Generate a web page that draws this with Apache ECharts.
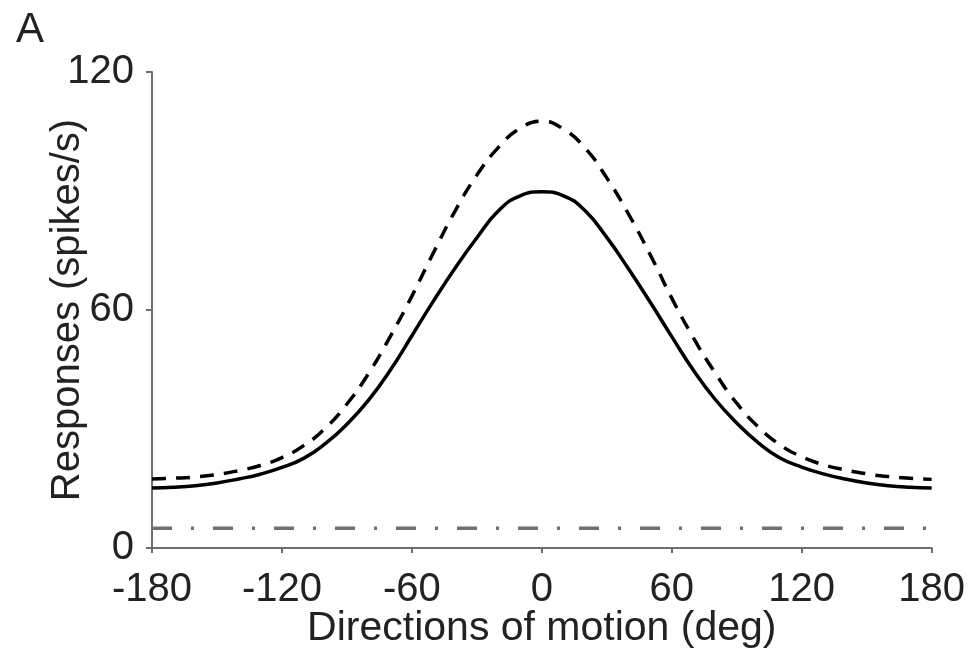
<!DOCTYPE html>
<html>
<head>
<meta charset="utf-8">
<script src="https://cdn.jsdelivr.net/npm/echarts@6/dist/echarts.min.js"></script>
<style>
  html, body { margin: 0; padding: 0; background: #fff; }
  #app { width: 968px; height: 662px; }
</style>
</head>
<body>
<div id="app"></div>
<script>
// directions of motion (deg), every 10 deg
var directions = [-180, -170, -160, -150, -140, -130, -120, -110, -100, -90,
                  -80, -70, -60, -50, -40, -30, -20, -10, 0,
                  10, 20, 30, 40, 50, 60, 70, 80, 90,
                  100, 110, 120, 130, 140, 150, 160, 170, 180];
// solid curve (spikes/s)
var solidResp = [15.1, 15.3, 15.7, 16.4, 17.4, 18.6, 20.3, 22.6, 26.3, 31.2,
                 37.3, 44.8, 53.5, 62.3, 70.6, 78.2, 85, 88.8, 89.8,
                 88.8, 85, 78.3, 70.4, 62, 53.3, 44.8, 37.5, 31.5,
                 26.5, 22.7, 20.4, 18.7, 17.4, 16.4, 15.7, 15.3, 15.1];
// dashed curve (spikes/s)
var dashedResp = [17.4, 17.6, 17.9, 18.5, 19.5, 20.8, 22.8, 25.8, 30.2, 36.3,
                  44, 53.3, 63.5, 74.5, 85, 94, 101, 105.8, 107.6,
                  105.6, 100.8, 93.3, 84.2, 74, 63, 53, 44.2, 36.5,
                  30.5, 26, 23, 21, 19.7, 18.7, 18, 17.6, 17.3];
// dash-dot baseline
var baseX = [-180, 180];
var baseResp = [5, 5];

var xTicks = [-180, -120, -60, 0, 60, 120, 180];
var yTicks = [0, 60, 120];

function pairs(xs, ys) {
  var out = [];
  for (var i = 0; i < xs.length; i++) out.push([xs[i], ys[i]]);
  return out;
}

var axisColor = '#6e6e6e';
var textColor = '#222';
var fontFam = 'Liberation Sans, Arial, sans-serif';

var myChart = echarts.init(document.getElementById('app'));
myChart.setOption({
  backgroundColor: '#fff',
  animation: false,
  title: {
    text: 'A',
    left: 11,
    top: 4,
    textStyle: { fontSize: 42, fontWeight: 'normal', color: textColor, fontFamily: fontFam }
  },
  grid: { left: 152, right: 36, top: 72, bottom: 114 },
  xAxis: {
    type: 'value',
    min: -180,
    max: 180,
    interval: 60,
    name: 'Directions of motion (deg)',
    nameLocation: 'middle',
    nameGap: 60,
    nameMoveOverlap: false,
    nameTextStyle: { fontSize: 41, color: textColor, fontFamily: fontFam },
    axisLine: { onZero: false, lineStyle: { color: axisColor, width: 2 } },
    axisTick: { show: true, length: 5, inside: false, lineStyle: { color: axisColor, width: 2 } },
    axisLabel: {
      margin: 22, fontSize: 40, color: textColor, fontFamily: fontFam,
      formatter: function (v) { return xTicks.indexOf(v) >= 0 ? String(v) : ''; }
    },
    splitLine: { show: false }
  },
  yAxis: {
    type: 'value',
    min: 0,
    max: 120,
    interval: 60,
    name: 'Responses (spikes/s)',
    nameLocation: 'middle',
    nameGap: 64,
    nameMoveOverlap: false,
    nameTextStyle: { fontSize: 40, color: textColor, fontFamily: fontFam },
    axisLine: { show: true, onZero: false, lineStyle: { color: axisColor, width: 2 } },
    axisTick: { show: true, length: 6, lineStyle: { color: axisColor, width: 2 } },
    axisLabel: {
      margin: 18, fontSize: 40, color: textColor, fontFamily: fontFam,
      formatter: function (v) { return yTicks.indexOf(v) >= 0 ? String(v) : ''; }
    },
    splitLine: { show: false }
  },
  series: [
    {
      name: 'dashed',
      type: 'line',
      data: pairs(directions, dashedResp),
      smooth: 0.5,
      showSymbol: false,
      lineStyle: { color: '#000', width: 3.5, type: [14, 10] }
    },
    {
      name: 'solid',
      type: 'line',
      data: pairs(directions, solidResp),
      smooth: 0.5,
      showSymbol: false,
      lineStyle: { color: '#000', width: 3.5 }
    },
    {
      name: 'baseline',
      type: 'line',
      data: pairs(baseX, baseResp),
      showSymbol: false,
      lineStyle: { color: '#707070', width: 3.5, type: [20, 19, 3, 19] }
    }
  ]
});
</script>
</body>
</html>
